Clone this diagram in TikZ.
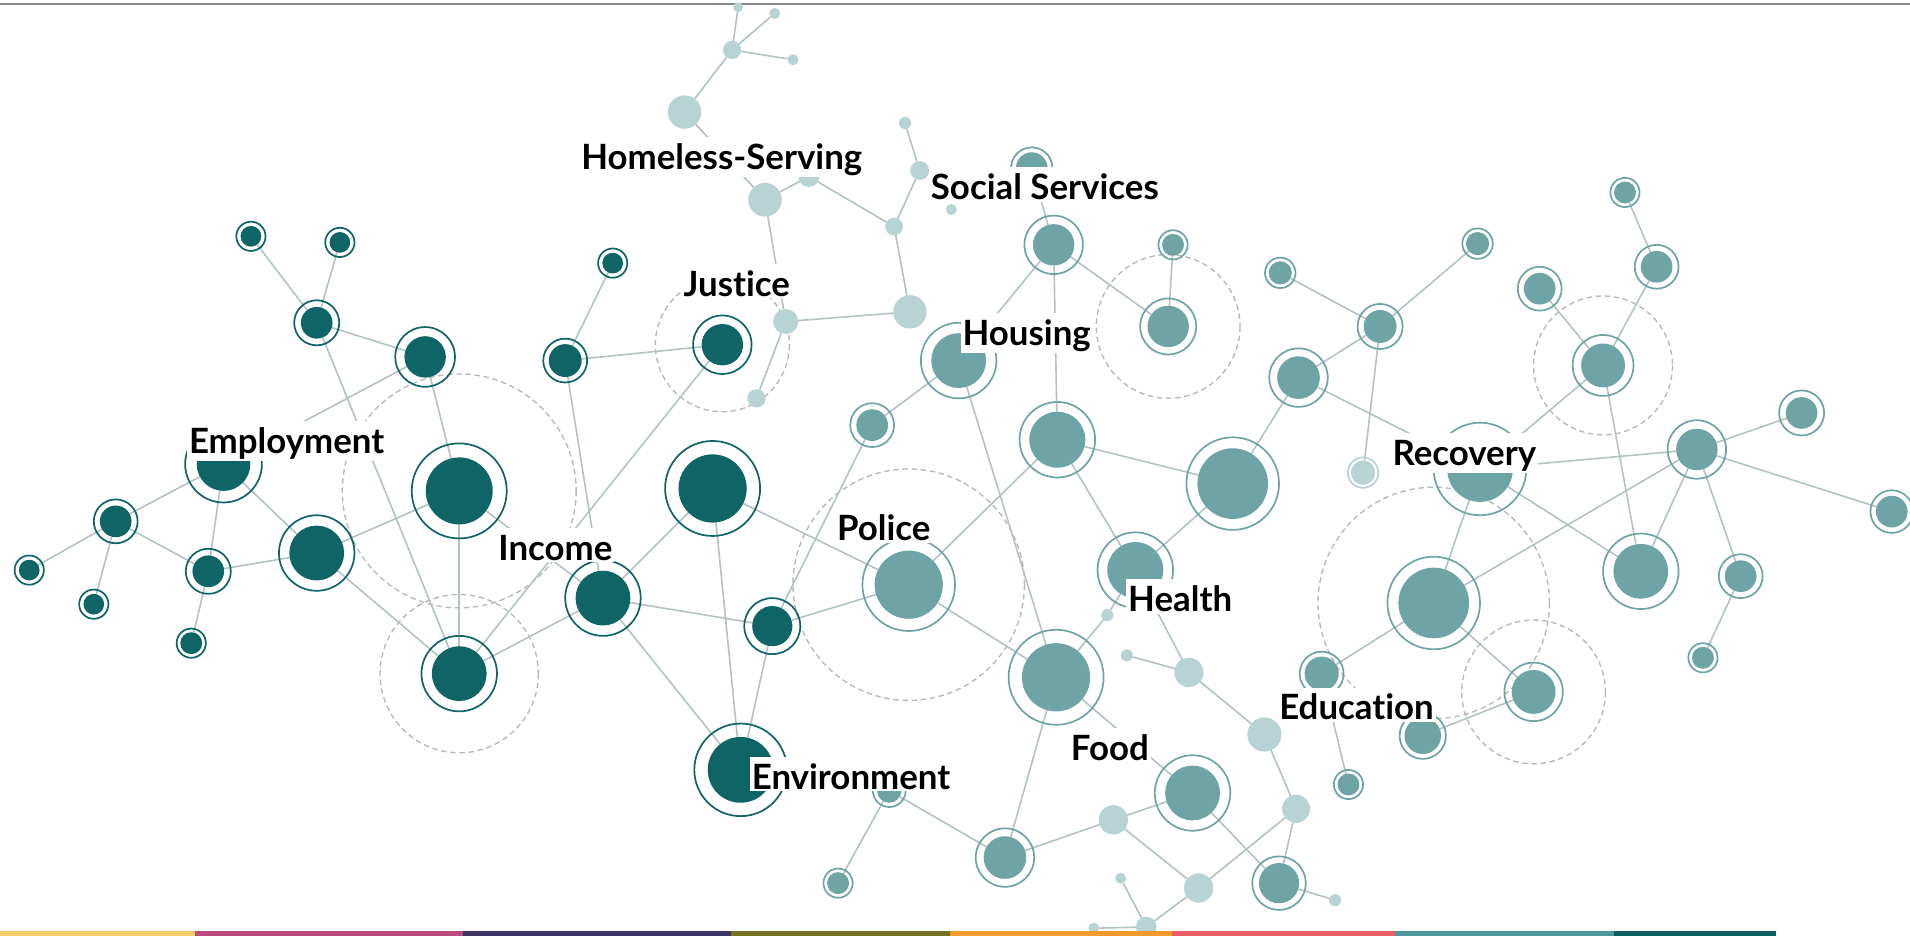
\documentclass[tikz,border=0pt]{standalone}
\usepackage{fontspec}
\setmainfont{Lato}[Ligatures=NoCommon]
\definecolor{dk}{HTML}{0F6466}
\definecolor{md}{HTML}{6FA4A6}
\definecolor{lt}{HTML}{B7D3D4}
\definecolor{edgec}{HTML}{B3C2C2}
\definecolor{dashc}{HTML}{B8B8B8}
\definecolor{topline}{HTML}{8A8A8A}
\definecolor{barA}{HTML}{F3CF6A}
\definecolor{barB}{HTML}{B94B7D}
\definecolor{barC}{HTML}{3B3468}
\definecolor{barD}{HTML}{75701F}
\definecolor{barE}{HTML}{F49A2C}
\definecolor{barF}{HTML}{EA5F66}
\definecolor{barG}{HTML}{4C999C}
\definecolor{barH}{HTML}{0E5F5F}
\pgfdeclarelayer{paper}
\pgfdeclarelayer{edges}
\pgfsetlayers{paper,edges,main}
\newcommand\mknode[6]{%
  \node[circle, fill=#6, inner sep=0pt, outer sep=0pt, minimum size=#4*2pt] (#1) at (#2,#3) {};
  \draw[draw=#6, line width=1.4pt] (#1.center) circle[radius=#5];
}
\newcommand\mklight[4]{%
  \node[circle, fill=lt, inner sep=0pt, outer sep=0pt, minimum size=#4*2pt] (#1) at (#2,#3) {};
}
\begin{document}
\begin{tikzpicture}[x=1pt,y=-1pt,
  edge/.style={draw=edgec, line width=1.3pt},
  dashring/.style={draw=dashc, line width=1.1pt, dash pattern=on 4.5pt off 3pt},
  lbl/.style={fill=white, inner xsep=1.5pt, inner ysep=1.5pt, text height=25pt,
    font=\fontsize{28.6}{30}\selectfont\bfseries, anchor=base west, text=black}]
\useasboundingbox (0,0) rectangle (1568,768);
\begin{pgfonlayer}{paper}
\fill[white] (0,0) rectangle (1568,768);
\end{pgfonlayer}
% top rule
\draw[topline, line width=1.5pt] (0,3.5) -- (1568,3.5);
% dark nodes
\mknode{n1}{206}{194}{8.5}{12}{dk}
\mknode{n2}{279}{199}{8.5}{12}{dk}
\mknode{n3}{260}{265}{13}{18.5}{dk}
\mknode{n4}{349}{293}{17}{24.5}{dk}
\mknode{n5}{183.5}{381}{22}{31.5}{dk}
\mknode{n6}{95}{428}{13}{18}{dk}
\mknode{n7}{24}{468}{8.5}{12}{dk}
\mknode{n8}{77}{496}{8.5}{12}{dk}
\mknode{n9}{171}{469}{13}{18.5}{dk}
\mknode{n10}{157}{528}{9}{12}{dk}
\mknode{n11}{260}{454}{22.5}{31}{dk}
\mknode{n12}{377}{403}{27.5}{39}{dk}
\mknode{n13}{377}{553}{22.5}{31}{dk}
\mknode{n14}{503}{216}{8.5}{12}{dk}
\mknode{n15}{464}{296}{13.5}{18}{dk}
\mknode{n16}{593}{283}{17}{24}{dk}
\mknode{n17}{585}{401}{28}{39}{dk}
\mknode{n18}{495}{491}{22.5}{31}{dk}
\mknode{n19}{634}{514}{16.5}{23}{dk}
\mknode{n20}{608}{632}{27}{38}{dk}
% mid nodes
\mknode{n21}{787}{296}{22.5}{31}{md}
\mknode{n22}{716}{349}{13}{18}{md}
\mknode{n23}{746}{480}{28}{38}{md}
\mknode{n24}{865}{201}{17}{24}{md}
\mknode{n25}{847}{138}{13}{17}{md}
\mknode{n26}{963}{201}{9}{12}{md}
\mknode{n27}{959}{268}{17}{23}{md}
\mknode{n28}{868}{361}{23}{31}{md}
\mknode{n29}{1012}{397}{29}{38}{md}
\mknode{n30}{932}{468}{23}{31}{md}
\mknode{n31}{867}{556}{28}{39}{md}
\mknode{n32}{979}{651}{22.5}{31}{md}
\mknode{n33}{825}{704}{17.5}{24}{md}
\mknode{n34}{688}{725}{9}{12}{md}
\mknode{n35}{730}{649}{10}{13.5}{md}
\mknode{n36}{1050}{725}{16.5}{22}{md}
\mknode{n37}{1051}{224}{9.5}{12.5}{md}
\mknode{n38}{1213}{200}{9.5}{12.5}{md}
\mknode{n39}{1133}{268}{13.5}{18.5}{md}
\mknode{n40}{1066}{310}{17.5}{24}{md}
\mknode{n41}{1334}{158}{9}{12}{md}
\mknode{n42}{1360}{219}{13}{18}{md}
\mknode{n43}{1264}{237}{13}{18}{md}
\mknode{n44}{1316}{300}{18}{25}{md}
\mknode{n45}{1479}{339}{13}{18.5}{md}
\mknode{n46}{1393}{369}{17}{24}{md}
\mknode{n47}{1215}{385}{27}{38}{md}
\mknode{n48}{1553}{420}{13}{17.5}{md}
\mknode{n49}{1347}{469}{22.5}{31}{md}
\mknode{n50}{1429}{473}{13}{18}{md}
\mknode{n51}{1398}{540}{9}{12}{md}
\mknode{n52}{1177}{495}{29}{38}{md}
\mknode{n53}{1085}{553}{14}{18}{md}
\mknode{n54}{1259}{568}{18}{24}{md}
\mknode{n55}{1168}{604}{15}{19}{md}
\mknode{n56}{1107}{644}{9}{12}{md}
\mknode{n57}{1119}{388}{10}{12.5}{lt}
% light nodes
\mklight{n58}{606}{6}{4}
\mklight{n59}{636}{11}{4.5}
\mklight{n60}{601}{41}{7.5}
\mklight{n61}{651}{49}{4.5}
\mklight{n62}{562}{92}{13.7}
\mklight{n63}{628}{164}{13.8}
\mklight{n64}{664}{145}{8.5}
\mklight{n65}{743}{101}{5}
\mklight{n66}{755}{140}{7.8}
\mklight{n67}{734}{186}{7.3}
\mklight{n68}{781}{172}{4.5}
\mklight{n69}{747}{256}{13.7}
\mklight{n70}{645}{264}{10.3}
\mklight{n71}{621}{327}{7.5}
\mklight{n72}{976}{552}{12}
\mklight{n73}{925}{538}{5}
\mklight{n74}{909}{505}{5}
\mklight{n75}{1038}{603}{14}
\mklight{n76}{1064}{664}{11.5}
\mklight{n77}{914}{673}{12}
\mklight{n78}{984}{729}{12}
\mklight{n79}{920}{721}{4.5}
\mklight{n80}{941}{761}{8.5}
\mklight{n81}{898}{762}{4.5}
\mklight{n82}{1096}{739}{5}
\begin{pgfonlayer}{edges}
% dashed halos
\draw[dashring] (n12.center) circle[radius=96];
\draw[dashring] (n13.center) circle[radius=65];
\draw[dashring] (n16.center) circle[radius=55];
\draw[dashring] (n23.center) circle[radius=95];
\draw[dashring] (n27.center) circle[radius=59];
\draw[dashring] (n44.center) circle[radius=57];
\draw[dashring] (n52.center) circle[radius=95];
\draw[dashring] (n54.center) circle[radius=59];
% connectors
\foreach \a/\b in {n1/n3,n2/n3,n3/n4,n3/n13,n4/n5,n4/n12,n5/n6,n5/n9,n5/n11,n6/n7,n6/n8,n6/n9,n9/n10,n9/n11,n11/n12,n11/n13,n12/n13,n12/n18,n13/n18,n13/n16,n14/n15,n15/n16,n15/n18,n17/n18,n17/n20,n17/n23,n18/n19,n18/n20,n19/n20,n19/n23,n19/n22,
 n60/n62,n58/n60,n59/n60,n60/n61,n62/n63,n63/n64,n63/n70,n64/n67,n67/n66,n66/n65,n67/n69,n69/n70,n70/n71,
 n24/n25,n24/n21,n24/n27,n24/n28,n26/n27,n21/n22,n21/n31,n23/n28,n23/n31,n28/n29,n28/n30,n29/n30,n29/n40,n30/n74,n74/n31,n30/n72,n72/n73,n72/n75,n75/n76,n76/n36,n76/n78,n36/n82,n32/n36,n31/n32,n31/n33,n33/n77,n77/n32,n77/n78,n78/n80,n80/n79,n80/n81,n33/n35,n35/n34,
 n37/n39,n38/n39,n39/n40,n39/n57,n40/n47,n44/n47,n43/n44,n42/n44,n41/n42,n44/n49,n46/n47,n46/n45,n46/n48,n46/n49,n46/n50,n46/n52,n47/n49,n47/n52,n50/n51,n52/n53,n52/n54,n54/n55,n53/n56}
  \draw[edge] (\a) -- (\b);
\end{pgfonlayer}
% labels
\node[lbl] (tHome) at (475.5,139) {Homeless-Serving};
\node[lbl] (tSoc) at (762.5,164) {Social Services};
\node[lbl] (tJus) at (559.5,243) {Justice};
\node[lbl] (tHou) at (788.5,283.5) {Housing};
\node[lbl] (tEmp) at (153.5,372.5) {Employment};
\node[lbl] (tRec) at (1141.5,382) {Recovery};
\node[lbl] (tInc) at (407.5,460) {Income};
\node[lbl] (tPol) at (685.5,444) {Police};
\node[lbl] (tHea) at (924.5,502) {Health};
\node[lbl] (tFoo) at (877.5,624) {Food};
\node[lbl] (tEnv) at (615.5,648) {Environment};
\node[lbl] (tEdu) at (1048.5,591) {Education};
% bottom colour strip
\fill[barA] (0,764.5) rectangle (160,768);
\fill[barB] (160,764.5) rectangle (380,768);
\fill[barC] (380,764.5) rectangle (600,768);
\fill[barD] (600,764.5) rectangle (780,768);
\fill[barE] (780,764.5) rectangle (962,768);
\fill[barF] (962,764.5) rectangle (1145,768);
\fill[barG] (1145,764.5) rectangle (1325,768);
\fill[barH] (1325,764.5) rectangle (1458,768);
\end{tikzpicture}
\end{document}
